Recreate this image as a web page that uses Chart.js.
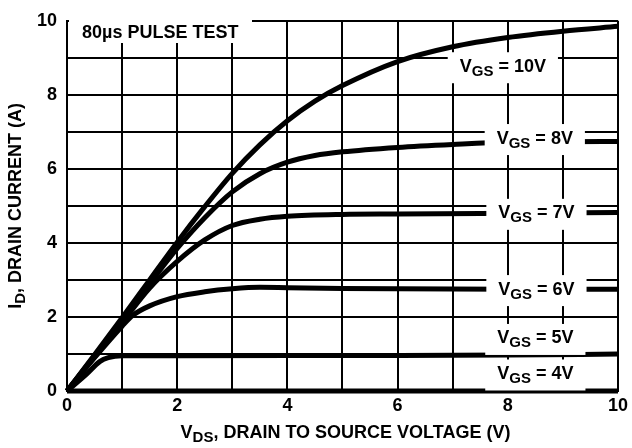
<!DOCTYPE html>
<html>
<head>
<meta charset="utf-8">
<script src="https://cdn.jsdelivr.net/npm/chart.js@4"></script>
<style>
  html, body { margin: 0; padding: 0; background: #fff; }
  #wrap { width: 632px; height: 448px; }
</style>
</head>
<body>
<div id="wrap"><canvas id="myChart" width="632" height="448"></canvas></div>
<script>
// curve data: V_DS (V) vs I_D (A) for each V_GS
const vds10 = [0, 0.5, 1, 1.5, 2, 2.5, 3, 3.5, 4, 4.5, 5, 6, 7, 8, 9, 10];
const id10  = [0, 0.98, 1.98, 3.0, 4.02, 4.98, 5.88, 6.65, 7.3, 7.83, 8.25, 8.9, 9.3, 9.55, 9.72, 9.85];
const vds8 = [0, 0.5, 1, 1.5, 2, 2.5, 3, 3.5, 4, 4.5, 5, 6, 7, 8, 9, 10];
const id8  = [0, 0.95, 1.92, 2.9, 3.85, 4.68, 5.38, 5.87, 6.18, 6.36, 6.46, 6.58, 6.66, 6.72, 6.73, 6.74];
const vds7 = [0, 0.5, 1, 1.5, 2, 2.5, 3, 3.5, 4, 5, 6, 8, 10];
const id7  = [0, 0.92, 1.85, 2.78, 3.5, 4.08, 4.47, 4.64, 4.72, 4.77, 4.78, 4.8, 4.82];
const vds6 = [0, 0.5, 1, 1.2, 1.5, 2, 2.5, 3, 3.5, 4, 5, 6, 8, 10];
const id6  = [0, 0.9, 1.75, 2.05, 2.3, 2.55, 2.68, 2.76, 2.8, 2.79, 2.77, 2.76, 2.75, 2.75];
const vds5 = [0, 0.35, 0.6, 0.75, 1, 2, 5, 8, 10];
const id5  = [0, 0.45, 0.8, 0.9, 0.95, 0.95, 0.96, 0.97, 1.0];
const vds4 = [0, 10];
const id4  = [0, 0];

const xTicks = [0, 2, 4, 6, 8, 10];
const yTicks = [0, 2, 4, 6, 8, 10];

const vgsNames = ['10V', '8V', '7V', '6V', '5V', '4V'];

// where each V_GS label sits (data units)
const tagSpots = [[7.91, 8.80], [8.49, 6.86], [8.52, 4.84], [8.52, 2.78], [8.50, 1.46], [8.50, 0.50]];

const FONT = '"Liberation Sans", Arial, sans-serif';

const pts = (xs, ys) => xs.map((x, i) => ({ x: x, y: ys[i] }));

const series = [
    pts(vds10, id10), pts(vds8, id8), pts(vds7, id7),
    pts(vds6, id6), pts(vds5, id5), pts(vds4, id4)
];

// draws "main" + subscript + rest, centred on cx, text middle on cy
function subText(ctx, main, sub, rest, cx, cy, size, subSize) {
    ctx.font = 'bold ' + size + 'px ' + FONT;
    const w1 = ctx.measureText(main).width;
    const w3 = ctx.measureText(rest).width;
    ctx.font = 'bold ' + subSize + 'px ' + FONT;
    const w2 = ctx.measureText(sub).width;
    const total = w1 + w2 + w3;
    let x = cx - total / 2;
    const base = cy + size * 0.36;
    ctx.textAlign = 'left';
    ctx.textBaseline = 'alphabetic';
    ctx.fillStyle = '#000';
    ctx.font = 'bold ' + size + 'px ' + FONT;
    ctx.fillText(main, x, base);
    x += w1;
    ctx.font = 'bold ' + subSize + 'px ' + FONT;
    ctx.fillText(sub, x, base + 4);
    x += w2;
    ctx.font = 'bold ' + size + 'px ' + FONT;
    ctx.fillText(rest, x, base);
    return total;
}

const notes = {
    id: 'notes',
    afterDatasetsDraw(chart) {
        const ctx = chart.ctx;
        const xs = chart.scales.x, ys = chart.scales.y;
        const a = chart.chartArea;
        ctx.save();
        // pulse test box
        ctx.fillStyle = '#fff';
        ctx.fillRect(a.left + 2, 17, 183, 26);
        ctx.fillStyle = '#000';
        ctx.font = 'bold 18px ' + FONT;
        ctx.textAlign = 'left';
        ctx.textBaseline = 'alphabetic';
        ctx.fillText('80\u00b5s PULSE TEST', a.left + 15, 38);

        // V_GS tags
        vgsNames.forEach((name, i) => {
            const cx = xs.getPixelForValue(tagSpots[i][0]);
            const cy = ys.getPixelForValue(tagSpots[i][1]);
            ctx.font = 'bold 18px ' + FONT;
            const w = ctx.measureText('V = ' + name).width + 4;
            ctx.font = 'bold 15px ' + FONT;
            const ww = w + ctx.measureText('GS').width;
            ctx.fillStyle = '#fff';
            ctx.fillRect(cx - ww / 2 - 10, cy - 13, ww + 20, 31);
            subText(ctx, 'V', 'GS', ' = ' + name, cx, cy, 18, 15);
        });
        ctx.restore();
    },
    afterDraw(chart) {
        const ctx = chart.ctx;
        const a = chart.chartArea;
        ctx.save();
        subText(ctx, 'V', 'DS', ', DRAIN TO SOURCE VOLTAGE (V)', (a.left + a.right) / 2 + 3, 432, 18, 15);
        ctx.translate(15, (a.top + a.bottom) / 2);
        ctx.rotate(-Math.PI / 2);
        subText(ctx, 'I', 'D', ', DRAIN CURRENT (A)', 0, 0, 18, 15);
        ctx.restore();
    }
};

const tickFont = { family: FONT, size: 18, weight: 'bold' };

new Chart(document.getElementById('myChart').getContext('2d'), {
    type: 'line',
    data: {
        datasets: series.map((d, i) => ({
            label: 'VGS = ' + vgsNames[i],
            data: d,
            borderColor: '#000',
            borderWidth: 5,
            pointRadius: 0,
            fill: false,
            cubicInterpolationMode: 'monotone',
            clip: false
        }))
    },
    options: {
        responsive: false,
        animation: false,
        layout: { padding: { top: 13, right: 10, left: 0, bottom: 0 } },
        plugins: {
            legend: { display: false },
            tooltip: { enabled: false }
        },
        scales: {
            x: {
                type: 'linear',
                min: 0, max: 10,
                grid: { color: '#000', lineWidth: 2, drawTicks: false },
                border: { color: '#000', width: 2 },
                ticks: {
                    stepSize: 1,
                    padding: 4,
                    color: '#000',
                    font: tickFont,
                    maxRotation: 0,
                    autoSkip: false,
                    callback: v => xTicks.includes(v) ? String(v) : ''
                },
                afterFit: s => { s.height = 57; }
            },
            y: {
                min: 0, max: 10,
                grid: { color: '#000', lineWidth: 2, drawTicks: false },
                border: { color: '#000', width: 2 },
                ticks: {
                    stepSize: 1,
                    padding: 10,
                    color: '#000',
                    font: tickFont,
                    autoSkip: false,
                    callback: v => yTicks.includes(v) ? String(v) : ''
                },
                afterFit: s => { s.width = 67; }
            }
        }
    },
    plugins: [notes]
});
</script>
</body>
</html>
